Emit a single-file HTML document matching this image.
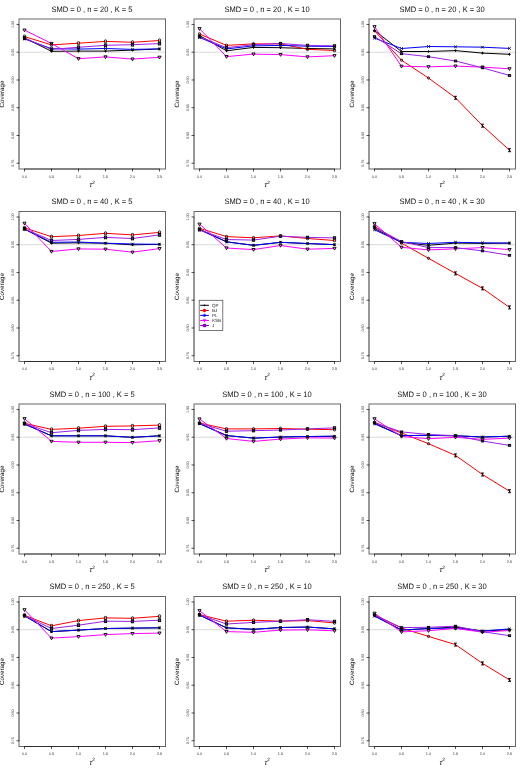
<!DOCTYPE html>
<html><head><meta charset="utf-8"><title>Coverage</title>
<style>
html,body{margin:0;padding:0;background:#fff}
svg{display:block;will-change:transform}
text{font-family:"Liberation Sans",sans-serif;fill:#000;text-rendering:geometricPrecision}
.t{font-size:7.9px;text-anchor:middle;fill:#111}
.k{font-size:3.9px;text-anchor:middle;fill:#444}
.a{font-size:6.2px;text-anchor:middle}
.l{font-size:4.5px;fill:#222}
.mk{fill:none;stroke:#000;stroke-width:0.9}
.ln{fill:none;stroke-width:1;stroke-linejoin:round}
</style></head><body>
<svg width="525" height="770" viewBox="0 0 525 770">
<rect width="525" height="770" fill="#fff"/>
<g>
<text class="t" transform="translate(92 11.9) scale(0.955 1)">SMD = 0 , n = 20 , K = 5</text>
<rect x="19" y="19" width="146.5" height="150" fill="none" stroke="#000" stroke-opacity="0.6" stroke-width="1"/>
<path d="M19.6 52.21H164.9" stroke="#d4d4d4" stroke-width="0.9"/>
<path d="M24.5 169H159.5" stroke="#000" stroke-opacity="0.55" stroke-width="1" fill="none"/>
<path d="M19 24.45V163.25" stroke="#000" stroke-opacity="0.3" stroke-width="1" fill="none"/>
<path d="M24.5 168.7v2.8M51.5 168.7v2.8M78.5 168.7v2.8M105.5 168.7v2.8M132.5 168.7v2.8M159.5 168.7v2.8M19.3 24.45h-2.8M19.3 52.21h-2.8M19.3 79.97h-2.8M19.3 107.73h-2.8M19.3 135.49h-2.8M19.3 163.25h-2.8" stroke="#000" stroke-opacity="0.75" stroke-width="0.9" fill="none"/>
<text class="k" x="24.5" y="177.9">0.0</text><text class="k" x="51.5" y="177.9">0.5</text><text class="k" x="78.5" y="177.9">1.0</text><text class="k" x="105.5" y="177.9">1.5</text><text class="k" x="132.5" y="177.9">2.0</text><text class="k" x="159.5" y="177.9">2.5</text>
<text class="k" style="font-size:3.7px" transform="translate(13.6 24.45) rotate(-90)">1.00</text><text class="k" style="font-size:3.7px" transform="translate(13.6 52.21) rotate(-90)">0.95</text><text class="k" style="font-size:3.7px" transform="translate(13.6 79.97) rotate(-90)">0.90</text><text class="k" style="font-size:3.7px" transform="translate(13.6 107.73) rotate(-90)">0.85</text><text class="k" style="font-size:3.7px" transform="translate(13.6 135.49) rotate(-90)">0.80</text><text class="k" style="font-size:3.7px" transform="translate(13.6 163.25) rotate(-90)">0.75</text>
<text class="a" transform="translate(4.4 94) rotate(-90)">Coverage</text>
<text class="a" x="92.2" y="187" style="font-size:7.2px;fill:#000"><tspan style="font-style:italic">&#964;</tspan><tspan dx="0.2" dy="-3.4" style="font-size:4.8px">2</tspan></text>
<polyline class="ln" stroke="#000000" points="24.5,37.8 51.5,51.3 78.5,51.1 105.5,51.1 132.5,50.1 159.5,48.95"/>
<polyline class="ln" stroke="#ff0000" points="24.5,36.6 51.5,44.9 78.5,43.2 105.5,41.4 132.5,42.3 159.5,40.5"/>
<polyline class="ln" stroke="#0000ff" points="24.5,38.9 51.5,48.7 78.5,49.1 105.5,48.5 132.5,49.4 159.5,48.9"/>
<polyline class="ln" stroke="#ff00ff" points="24.5,30.1 51.5,43.5 78.5,58.7 105.5,56.9 132.5,59.1 159.5,57.3"/>
<polyline class="ln" stroke="#9a20ea" points="24.5,38.2 51.5,49.3 78.5,47.3 105.5,45.3 132.5,44.7 159.5,43.6"/>
<g class="mk"><path d="M23.15 37.8H25.85M24.5 36.45V39.15"/><path d="M50.15 51.3H52.85M51.5 49.95V52.65"/><path d="M77.15 51.1H79.85M78.5 49.75V52.45"/><path d="M104.15 51.1H106.85M105.5 49.75V52.45"/><path d="M131.15 50.1H133.85M132.5 48.75V51.45"/><path d="M158.15 48.95H160.85M159.5 47.6V50.3"/><rect x="23.4" y="35.1" width="2.2" height="3" rx="0.8"/><rect x="50.4" y="43.4" width="2.2" height="3" rx="0.8"/><rect x="77.4" y="41.7" width="2.2" height="3" rx="0.8"/><rect x="104.4" y="39.9" width="2.2" height="3" rx="0.8"/><rect x="131.4" y="40.8" width="2.2" height="3" rx="0.8"/><rect x="158.4" y="39" width="2.2" height="3" rx="0.8"/><path d="M23.2 37.6L25.8 40.2M23.2 40.2L25.8 37.6"/><path d="M50.2 47.4L52.8 50M50.2 50L52.8 47.4"/><path d="M77.2 47.8L79.8 50.4M77.2 50.4L79.8 47.8"/><path d="M104.2 47.2L106.8 49.8M104.2 49.8L106.8 47.2"/><path d="M131.2 48.1L133.8 50.7M131.2 50.7L133.8 48.1"/><path d="M158.2 47.6L160.8 50.2M158.2 50.2L160.8 47.6"/><path d="M22.9 29H26.1L24.5 31.8Z"/><path d="M49.9 42.4H53.1L51.5 45.2Z"/><path d="M76.9 57.6H80.1L78.5 60.4Z"/><path d="M103.9 55.8H107.1L105.5 58.6Z"/><path d="M130.9 58H134.1L132.5 60.8Z"/><path d="M157.9 56.2H161.1L159.5 59Z"/><rect x="23.35" y="36.82" width="2.3" height="2.76" fill="#000" fill-opacity="0.55"/><rect x="50.35" y="47.92" width="2.3" height="2.76" fill="#000" fill-opacity="0.55"/><rect x="77.35" y="45.92" width="2.3" height="2.76" fill="#000" fill-opacity="0.55"/><rect x="104.35" y="43.92" width="2.3" height="2.76" fill="#000" fill-opacity="0.55"/><rect x="131.35" y="43.32" width="2.3" height="2.76" fill="#000" fill-opacity="0.55"/><rect x="158.35" y="42.22" width="2.3" height="2.76" fill="#000" fill-opacity="0.55"/></g>
</g>
<g>
<text class="t" transform="translate(267 11.9) scale(0.955 1)">SMD = 0 , n = 20 , K = 10</text>
<rect x="194" y="19" width="146.5" height="150" fill="none" stroke="#000" stroke-opacity="0.6" stroke-width="1"/>
<path d="M194.6 52.21H339.9" stroke="#d4d4d4" stroke-width="0.9"/>
<path d="M199.5 169H334.5" stroke="#000" stroke-opacity="0.55" stroke-width="1" fill="none"/>
<path d="M194 24.45V163.25" stroke="#000" stroke-opacity="0.3" stroke-width="1" fill="none"/>
<path d="M199.5 168.7v2.8M226.5 168.7v2.8M253.5 168.7v2.8M280.5 168.7v2.8M307.5 168.7v2.8M334.5 168.7v2.8M194.3 24.45h-2.8M194.3 52.21h-2.8M194.3 79.97h-2.8M194.3 107.73h-2.8M194.3 135.49h-2.8M194.3 163.25h-2.8" stroke="#000" stroke-opacity="0.75" stroke-width="0.9" fill="none"/>
<text class="k" x="199.5" y="177.9">0.0</text><text class="k" x="226.5" y="177.9">0.5</text><text class="k" x="253.5" y="177.9">1.0</text><text class="k" x="280.5" y="177.9">1.5</text><text class="k" x="307.5" y="177.9">2.0</text><text class="k" x="334.5" y="177.9">2.5</text>
<text class="k" style="font-size:3.7px" transform="translate(188.6 24.45) rotate(-90)">1.00</text><text class="k" style="font-size:3.7px" transform="translate(188.6 52.21) rotate(-90)">0.95</text><text class="k" style="font-size:3.7px" transform="translate(188.6 79.97) rotate(-90)">0.90</text><text class="k" style="font-size:3.7px" transform="translate(188.6 107.73) rotate(-90)">0.85</text><text class="k" style="font-size:3.7px" transform="translate(188.6 135.49) rotate(-90)">0.80</text><text class="k" style="font-size:3.7px" transform="translate(188.6 163.25) rotate(-90)">0.75</text>
<text class="a" transform="translate(179.4 94) rotate(-90)">Coverage</text>
<text class="a" x="267.2" y="187" style="font-size:7.2px;fill:#000"><tspan style="font-style:italic">&#964;</tspan><tspan dx="0.2" dy="-3.4" style="font-size:4.8px">2</tspan></text>
<polyline class="ln" stroke="#000000" points="199.5,35.5 226.5,50.8 253.5,47.4 280.5,47.7 307.5,48.5 334.5,48.9"/>
<polyline class="ln" stroke="#ff0000" points="199.5,34 226.5,45.4 253.5,43.9 280.5,43.9 307.5,49.3 334.5,50.5"/>
<polyline class="ln" stroke="#0000ff" points="199.5,37.4 226.5,48.9 253.5,45.9 280.5,45.4 307.5,46.2 334.5,46.5"/>
<polyline class="ln" stroke="#ff00ff" points="199.5,28.7 226.5,56.6 253.5,54.1 280.5,54.6 307.5,56.9 334.5,55.7"/>
<polyline class="ln" stroke="#9a20ea" points="199.5,36.8 226.5,47.7 253.5,44.7 280.5,43.5 307.5,45.4 334.5,45.9"/>
<g class="mk"><path d="M198.15 35.5H200.85M199.5 34.15V36.85"/><path d="M225.15 50.8H227.85M226.5 49.45V52.15"/><path d="M252.15 47.4H254.85M253.5 46.05V48.75"/><path d="M279.15 47.7H281.85M280.5 46.35V49.05"/><path d="M306.15 48.5H308.85M307.5 47.15V49.85"/><path d="M333.15 48.9H335.85M334.5 47.55V50.25"/><rect x="198.4" y="32.75" width="2.2" height="2.5" rx="0.8"/><rect x="225.4" y="44.15" width="2.2" height="2.5" rx="0.8"/><rect x="252.4" y="42.65" width="2.2" height="2.5" rx="0.8"/><rect x="279.4" y="42.65" width="2.2" height="2.5" rx="0.8"/><rect x="306.4" y="48.05" width="2.2" height="2.5" rx="0.8"/><rect x="333.4" y="49.25" width="2.2" height="2.5" rx="0.8"/><path d="M198.2 36.1L200.8 38.7M198.2 38.7L200.8 36.1"/><path d="M225.2 47.6L227.8 50.2M225.2 50.2L227.8 47.6"/><path d="M252.2 44.6L254.8 47.2M252.2 47.2L254.8 44.6"/><path d="M279.2 44.1L281.8 46.7M279.2 46.7L281.8 44.1"/><path d="M306.2 44.9L308.8 47.5M306.2 47.5L308.8 44.9"/><path d="M333.2 45.2L335.8 47.8M333.2 47.8L335.8 45.2"/><path d="M197.9 27.6H201.1L199.5 30.4Z"/><path d="M224.9 55.5H228.1L226.5 58.3Z"/><path d="M251.9 53H255.1L253.5 55.8Z"/><path d="M278.9 53.5H282.1L280.5 56.3Z"/><path d="M305.9 55.8H309.1L307.5 58.6Z"/><path d="M332.9 54.6H336.1L334.5 57.4Z"/><rect x="198.35" y="35.65" width="2.3" height="2.3" fill="#000" fill-opacity="0.55"/><rect x="225.35" y="46.55" width="2.3" height="2.3" fill="#000" fill-opacity="0.55"/><rect x="252.35" y="43.55" width="2.3" height="2.3" fill="#000" fill-opacity="0.55"/><rect x="279.35" y="42.35" width="2.3" height="2.3" fill="#000" fill-opacity="0.55"/><rect x="306.35" y="44.25" width="2.3" height="2.3" fill="#000" fill-opacity="0.55"/><rect x="333.35" y="44.75" width="2.3" height="2.3" fill="#000" fill-opacity="0.55"/></g>
</g>
<g>
<text class="t" transform="translate(442 11.9) scale(0.955 1)">SMD = 0 , n = 20 , K = 30</text>
<rect x="369" y="19" width="146.5" height="150" fill="none" stroke="#000" stroke-opacity="0.6" stroke-width="1"/>
<path d="M369.6 52.21H514.9" stroke="#d4d4d4" stroke-width="0.9"/>
<path d="M374.5 169H509.5" stroke="#000" stroke-opacity="0.55" stroke-width="1" fill="none"/>
<path d="M369 24.45V163.25" stroke="#000" stroke-opacity="0.3" stroke-width="1" fill="none"/>
<path d="M374.5 168.7v2.8M401.5 168.7v2.8M428.5 168.7v2.8M455.5 168.7v2.8M482.5 168.7v2.8M509.5 168.7v2.8M369.3 24.45h-2.8M369.3 52.21h-2.8M369.3 79.97h-2.8M369.3 107.73h-2.8M369.3 135.49h-2.8M369.3 163.25h-2.8" stroke="#000" stroke-opacity="0.75" stroke-width="0.9" fill="none"/>
<text class="k" x="374.5" y="177.9">0.0</text><text class="k" x="401.5" y="177.9">0.5</text><text class="k" x="428.5" y="177.9">1.0</text><text class="k" x="455.5" y="177.9">1.5</text><text class="k" x="482.5" y="177.9">2.0</text><text class="k" x="509.5" y="177.9">2.5</text>
<text class="k" style="font-size:3.7px" transform="translate(363.6 24.45) rotate(-90)">1.00</text><text class="k" style="font-size:3.7px" transform="translate(363.6 52.21) rotate(-90)">0.95</text><text class="k" style="font-size:3.7px" transform="translate(363.6 79.97) rotate(-90)">0.90</text><text class="k" style="font-size:3.7px" transform="translate(363.6 107.73) rotate(-90)">0.85</text><text class="k" style="font-size:3.7px" transform="translate(363.6 135.49) rotate(-90)">0.80</text><text class="k" style="font-size:3.7px" transform="translate(363.6 163.25) rotate(-90)">0.75</text>
<text class="a" transform="translate(354.4 94) rotate(-90)">Coverage</text>
<text class="a" x="442.2" y="187" style="font-size:7.2px;fill:#000"><tspan style="font-style:italic">&#964;</tspan><tspan dx="0.2" dy="-3.4" style="font-size:4.8px">2</tspan></text>
<polyline class="ln" stroke="#000000" points="374.5,30.5 401.5,51.5 428.5,51.5 455.5,50.6 482.5,53.1 509.5,54.3"/>
<polyline class="ln" stroke="#ff0000" points="374.5,30.8 401.5,60.2 428.5,78 455.5,97.8 482.5,125.7 509.5,150.2"/>
<polyline class="ln" stroke="#0000ff" points="374.5,38.1 401.5,48.5 428.5,46.5 455.5,46.8 482.5,47.2 509.5,48.4"/>
<polyline class="ln" stroke="#ff00ff" points="374.5,26.7 401.5,66.3 428.5,66.8 455.5,66.1 482.5,67.1 509.5,68.8"/>
<polyline class="ln" stroke="#9a20ea" points="374.5,36.6 401.5,53.7 428.5,56.7 455.5,61 482.5,67.8 509.5,75.5"/>
<g class="mk"><path d="M373.15 30.5H375.85M374.5 29.15V31.85"/><path d="M400.15 51.5H402.85M401.5 50.15V52.85"/><path d="M427.15 51.5H429.85M428.5 50.15V52.85"/><path d="M454.15 50.6H456.85M455.5 49.25V51.95"/><path d="M481.15 53.1H483.85M482.5 51.75V54.45"/><path d="M508.15 54.3H510.85M509.5 52.95V55.65"/><rect x="373.4" y="29.8" width="2.2" height="2" rx="0.8"/><rect x="400.4" y="59.2" width="2.2" height="2" rx="0.8"/><rect x="427.4" y="77" width="2.2" height="2" rx="0.8"/><path d="M454 96.3H457M454 99.3H457M455.5 96.3V99.3M454.5 96.8L456.5 98.8"/><path d="M481 124.2H484M481 127.2H484M482.5 124.2V127.2M481.5 124.7L483.5 126.7"/><path d="M508 148.7H511M508 151.7H511M509.5 148.7V151.7M508.5 149.2L510.5 151.2"/><path d="M373.2 36.8L375.8 39.4M373.2 39.4L375.8 36.8"/><path d="M400.2 47.2L402.8 49.8M400.2 49.8L402.8 47.2"/><path d="M427.2 45.2L429.8 47.8M427.2 47.8L429.8 45.2"/><path d="M454.2 45.5L456.8 48.1M454.2 48.1L456.8 45.5"/><path d="M481.2 45.9L483.8 48.5M481.2 48.5L483.8 45.9"/><path d="M508.2 47.1L510.8 49.7M508.2 49.7L510.8 47.1"/><path d="M372.9 25.6H376.1L374.5 28.4Z"/><path d="M399.9 65.2H403.1L401.5 68Z"/><path d="M426.9 65.7H430.1L428.5 68.5Z"/><path d="M453.9 65H457.1L455.5 67.8Z"/><path d="M480.9 66H484.1L482.5 68.8Z"/><path d="M507.9 67.7H511.1L509.5 70.5Z"/><rect x="373.35" y="35.68" width="2.3" height="1.84" fill="#000" fill-opacity="0.55"/><rect x="400.35" y="52.78" width="2.3" height="1.84" fill="#000" fill-opacity="0.55"/><rect x="427.35" y="55.78" width="2.3" height="1.84" fill="#000" fill-opacity="0.55"/><rect x="454.35" y="60.08" width="2.3" height="1.84" fill="#000" fill-opacity="0.55"/><rect x="481.35" y="66.88" width="2.3" height="1.84" fill="#000" fill-opacity="0.55"/><rect x="508.35" y="74.58" width="2.3" height="1.84" fill="#000" fill-opacity="0.55"/></g>
</g>
<g>
<text class="t" transform="translate(92 204.4) scale(0.955 1)">SMD = 0 , n = 40 , K = 5</text>
<rect x="19" y="211.5" width="146.5" height="150" fill="none" stroke="#000" stroke-opacity="0.6" stroke-width="1"/>
<path d="M19.6 244.71H164.9" stroke="#d4d4d4" stroke-width="0.9"/>
<path d="M24.5 361.5H159.5" stroke="#000" stroke-opacity="0.55" stroke-width="1" fill="none"/>
<path d="M19 216.95V355.75" stroke="#000" stroke-opacity="0.3" stroke-width="1" fill="none"/>
<path d="M24.5 361.2v2.8M51.5 361.2v2.8M78.5 361.2v2.8M105.5 361.2v2.8M132.5 361.2v2.8M159.5 361.2v2.8M19.3 216.95h-2.8M19.3 244.71h-2.8M19.3 272.47h-2.8M19.3 300.23h-2.8M19.3 327.99h-2.8M19.3 355.75h-2.8" stroke="#000" stroke-opacity="0.75" stroke-width="0.9" fill="none"/>
<text class="k" x="24.5" y="370.4">0.0</text><text class="k" x="51.5" y="370.4">0.5</text><text class="k" x="78.5" y="370.4">1.0</text><text class="k" x="105.5" y="370.4">1.5</text><text class="k" x="132.5" y="370.4">2.0</text><text class="k" x="159.5" y="370.4">2.5</text>
<text class="k" style="font-size:3.7px" transform="translate(13.6 216.95) rotate(-90)">1.00</text><text class="k" style="font-size:3.7px" transform="translate(13.6 244.71) rotate(-90)">0.95</text><text class="k" style="font-size:3.7px" transform="translate(13.6 272.47) rotate(-90)">0.90</text><text class="k" style="font-size:3.7px" transform="translate(13.6 300.23) rotate(-90)">0.85</text><text class="k" style="font-size:3.7px" transform="translate(13.6 327.99) rotate(-90)">0.80</text><text class="k" style="font-size:3.7px" transform="translate(13.6 355.75) rotate(-90)">0.75</text>
<text class="a" transform="translate(4.4 286.5) rotate(-90)">Coverage</text>
<text class="a" x="92.2" y="379.5" style="font-size:7.2px;fill:#000"><tspan style="font-style:italic">&#964;</tspan><tspan dx="0.2" dy="-3.4" style="font-size:4.8px">2</tspan></text>
<polyline class="ln" stroke="#000000" points="24.5,229.05 51.5,243.2 78.5,242.8 105.5,243.25 132.5,244.8 159.5,244.35"/>
<polyline class="ln" stroke="#ff0000" points="24.5,227.8 51.5,236.7 78.5,235.5 105.5,233.3 132.5,234.9 159.5,232.4"/>
<polyline class="ln" stroke="#0000ff" points="24.5,229 51.5,242.3 78.5,242 105.5,243.2 132.5,244 159.5,244.3"/>
<polyline class="ln" stroke="#ff00ff" points="24.5,223.3 51.5,251.5 78.5,248.9 105.5,249.2 132.5,252.2 159.5,248.6"/>
<polyline class="ln" stroke="#9a20ea" points="24.5,228.8 51.5,240.5 78.5,239.4 105.5,237.4 132.5,238.5 159.5,234.9"/>
<g class="mk"><path d="M23.15 229.05H25.85M24.5 227.7V230.4"/><path d="M50.15 243.2H52.85M51.5 241.85V244.55"/><path d="M77.15 242.8H79.85M78.5 241.45V244.15"/><path d="M104.15 243.25H106.85M105.5 241.9V244.6"/><path d="M131.15 244.8H133.85M132.5 243.45V246.15"/><path d="M158.15 244.35H160.85M159.5 243V245.7"/><rect x="23.4" y="226.3" width="2.2" height="3" rx="0.8"/><rect x="50.4" y="235.2" width="2.2" height="3" rx="0.8"/><rect x="77.4" y="234" width="2.2" height="3" rx="0.8"/><rect x="104.4" y="231.8" width="2.2" height="3" rx="0.8"/><rect x="131.4" y="233.4" width="2.2" height="3" rx="0.8"/><rect x="158.4" y="230.9" width="2.2" height="3" rx="0.8"/><path d="M23.2 227.7L25.8 230.3M23.2 230.3L25.8 227.7"/><path d="M50.2 241L52.8 243.6M50.2 243.6L52.8 241"/><path d="M77.2 240.7L79.8 243.3M77.2 243.3L79.8 240.7"/><path d="M104.2 241.9L106.8 244.5M104.2 244.5L106.8 241.9"/><path d="M131.2 242.7L133.8 245.3M131.2 245.3L133.8 242.7"/><path d="M158.2 243L160.8 245.6M158.2 245.6L160.8 243"/><path d="M22.9 222.2H26.1L24.5 225Z"/><path d="M49.9 250.4H53.1L51.5 253.2Z"/><path d="M76.9 247.8H80.1L78.5 250.6Z"/><path d="M103.9 248.1H107.1L105.5 250.9Z"/><path d="M130.9 251.1H134.1L132.5 253.9Z"/><path d="M157.9 247.5H161.1L159.5 250.3Z"/><rect x="23.35" y="227.42" width="2.3" height="2.76" fill="#000" fill-opacity="0.55"/><rect x="50.35" y="239.12" width="2.3" height="2.76" fill="#000" fill-opacity="0.55"/><rect x="77.35" y="238.02" width="2.3" height="2.76" fill="#000" fill-opacity="0.55"/><rect x="104.35" y="236.02" width="2.3" height="2.76" fill="#000" fill-opacity="0.55"/><rect x="131.35" y="237.12" width="2.3" height="2.76" fill="#000" fill-opacity="0.55"/><rect x="158.35" y="233.52" width="2.3" height="2.76" fill="#000" fill-opacity="0.55"/></g>
</g>
<g>
<text class="t" transform="translate(267 204.4) scale(0.955 1)">SMD = 0 , n = 40 , K = 10</text>
<rect x="194" y="211.5" width="146.5" height="150" fill="none" stroke="#000" stroke-opacity="0.6" stroke-width="1"/>
<path d="M194.6 244.71H339.9" stroke="#d4d4d4" stroke-width="0.9"/>
<path d="M199.5 361.5H334.5" stroke="#000" stroke-opacity="0.55" stroke-width="1" fill="none"/>
<path d="M194 216.95V355.75" stroke="#000" stroke-opacity="0.3" stroke-width="1" fill="none"/>
<path d="M199.5 361.2v2.8M226.5 361.2v2.8M253.5 361.2v2.8M280.5 361.2v2.8M307.5 361.2v2.8M334.5 361.2v2.8M194.3 216.95h-2.8M194.3 244.71h-2.8M194.3 272.47h-2.8M194.3 300.23h-2.8M194.3 327.99h-2.8M194.3 355.75h-2.8" stroke="#000" stroke-opacity="0.75" stroke-width="0.9" fill="none"/>
<text class="k" x="199.5" y="370.4">0.0</text><text class="k" x="226.5" y="370.4">0.5</text><text class="k" x="253.5" y="370.4">1.0</text><text class="k" x="280.5" y="370.4">1.5</text><text class="k" x="307.5" y="370.4">2.0</text><text class="k" x="334.5" y="370.4">2.5</text>
<text class="k" style="font-size:3.7px" transform="translate(188.6 216.95) rotate(-90)">1.00</text><text class="k" style="font-size:3.7px" transform="translate(188.6 244.71) rotate(-90)">0.95</text><text class="k" style="font-size:3.7px" transform="translate(188.6 272.47) rotate(-90)">0.90</text><text class="k" style="font-size:3.7px" transform="translate(188.6 300.23) rotate(-90)">0.85</text><text class="k" style="font-size:3.7px" transform="translate(188.6 327.99) rotate(-90)">0.80</text><text class="k" style="font-size:3.7px" transform="translate(188.6 355.75) rotate(-90)">0.75</text>
<text class="a" transform="translate(179.4 286.5) rotate(-90)">Coverage</text>
<text class="a" x="267.2" y="379.5" style="font-size:7.2px;fill:#000"><tspan style="font-style:italic">&#964;</tspan><tspan dx="0.2" dy="-3.4" style="font-size:4.8px">2</tspan></text>
<polyline class="ln" stroke="#000000" points="199.5,229.1 226.5,241.85 253.5,245.35 280.5,242.35 307.5,243.55 334.5,244.65"/>
<polyline class="ln" stroke="#ff0000" points="199.5,228.3 226.5,236.6 253.5,237.8 280.5,235.9 307.5,238.5 334.5,240.5"/>
<polyline class="ln" stroke="#0000ff" points="199.5,229.8 226.5,241.8 253.5,245.3 280.5,242.3 307.5,243.5 334.5,244.6"/>
<polyline class="ln" stroke="#ff00ff" points="199.5,224.2 226.5,248 253.5,249.6 280.5,245.5 307.5,249.2 334.5,248.4"/>
<polyline class="ln" stroke="#9a20ea" points="199.5,229.8 226.5,239.5 253.5,240.1 280.5,236.2 307.5,237.4 334.5,237.9"/>
<g class="mk"><path d="M198.15 229.1H200.85M199.5 227.75V230.45"/><path d="M225.15 241.85H227.85M226.5 240.5V243.2"/><path d="M252.15 245.35H254.85M253.5 244V246.7"/><path d="M279.15 242.35H281.85M280.5 241V243.7"/><path d="M306.15 243.55H308.85M307.5 242.2V244.9"/><path d="M333.15 244.65H335.85M334.5 243.3V246"/><rect x="198.4" y="227.05" width="2.2" height="2.5" rx="0.8"/><rect x="225.4" y="235.35" width="2.2" height="2.5" rx="0.8"/><rect x="252.4" y="236.55" width="2.2" height="2.5" rx="0.8"/><rect x="279.4" y="234.65" width="2.2" height="2.5" rx="0.8"/><rect x="306.4" y="237.25" width="2.2" height="2.5" rx="0.8"/><rect x="333.4" y="239.25" width="2.2" height="2.5" rx="0.8"/><path d="M198.2 228.5L200.8 231.1M198.2 231.1L200.8 228.5"/><path d="M225.2 240.5L227.8 243.1M225.2 243.1L227.8 240.5"/><path d="M252.2 244L254.8 246.6M252.2 246.6L254.8 244"/><path d="M279.2 241L281.8 243.6M279.2 243.6L281.8 241"/><path d="M306.2 242.2L308.8 244.8M306.2 244.8L308.8 242.2"/><path d="M333.2 243.3L335.8 245.9M333.2 245.9L335.8 243.3"/><path d="M197.9 223.1H201.1L199.5 225.9Z"/><path d="M224.9 246.9H228.1L226.5 249.7Z"/><path d="M251.9 248.5H255.1L253.5 251.3Z"/><path d="M278.9 244.4H282.1L280.5 247.2Z"/><path d="M305.9 248.1H309.1L307.5 250.9Z"/><path d="M332.9 247.3H336.1L334.5 250.1Z"/><rect x="198.35" y="228.65" width="2.3" height="2.3" fill="#000" fill-opacity="0.55"/><rect x="225.35" y="238.35" width="2.3" height="2.3" fill="#000" fill-opacity="0.55"/><rect x="252.35" y="238.95" width="2.3" height="2.3" fill="#000" fill-opacity="0.55"/><rect x="279.35" y="235.05" width="2.3" height="2.3" fill="#000" fill-opacity="0.55"/><rect x="306.35" y="236.25" width="2.3" height="2.3" fill="#000" fill-opacity="0.55"/><rect x="333.35" y="236.75" width="2.3" height="2.3" fill="#000" fill-opacity="0.55"/></g>
</g>
<g>
<text class="t" transform="translate(442 204.4) scale(0.955 1)">SMD = 0 , n = 40 , K = 30</text>
<rect x="369" y="211.5" width="146.5" height="150" fill="none" stroke="#000" stroke-opacity="0.6" stroke-width="1"/>
<path d="M369.6 244.71H514.9" stroke="#d4d4d4" stroke-width="0.9"/>
<path d="M374.5 361.5H509.5" stroke="#000" stroke-opacity="0.55" stroke-width="1" fill="none"/>
<path d="M369 216.95V355.75" stroke="#000" stroke-opacity="0.3" stroke-width="1" fill="none"/>
<path d="M374.5 361.2v2.8M401.5 361.2v2.8M428.5 361.2v2.8M455.5 361.2v2.8M482.5 361.2v2.8M509.5 361.2v2.8M369.3 216.95h-2.8M369.3 244.71h-2.8M369.3 272.47h-2.8M369.3 300.23h-2.8M369.3 327.99h-2.8M369.3 355.75h-2.8" stroke="#000" stroke-opacity="0.75" stroke-width="0.9" fill="none"/>
<text class="k" x="374.5" y="370.4">0.0</text><text class="k" x="401.5" y="370.4">0.5</text><text class="k" x="428.5" y="370.4">1.0</text><text class="k" x="455.5" y="370.4">1.5</text><text class="k" x="482.5" y="370.4">2.0</text><text class="k" x="509.5" y="370.4">2.5</text>
<text class="k" style="font-size:3.7px" transform="translate(363.6 216.95) rotate(-90)">1.00</text><text class="k" style="font-size:3.7px" transform="translate(363.6 244.71) rotate(-90)">0.95</text><text class="k" style="font-size:3.7px" transform="translate(363.6 272.47) rotate(-90)">0.90</text><text class="k" style="font-size:3.7px" transform="translate(363.6 300.23) rotate(-90)">0.85</text><text class="k" style="font-size:3.7px" transform="translate(363.6 327.99) rotate(-90)">0.80</text><text class="k" style="font-size:3.7px" transform="translate(363.6 355.75) rotate(-90)">0.75</text>
<text class="a" transform="translate(354.4 286.5) rotate(-90)">Coverage</text>
<text class="a" x="442.2" y="379.5" style="font-size:7.2px;fill:#000"><tspan style="font-style:italic">&#964;</tspan><tspan dx="0.2" dy="-3.4" style="font-size:4.8px">2</tspan></text>
<polyline class="ln" stroke="#000000" points="374.5,228.6 401.5,242.35 428.5,245.3 455.5,243.1 482.5,243.4 509.5,243.15"/>
<polyline class="ln" stroke="#ff0000" points="374.5,226.3 401.5,243.1 428.5,258.3 455.5,273.4 482.5,288.4 509.5,307.4"/>
<polyline class="ln" stroke="#0000ff" points="374.5,229.8 401.5,242.3 428.5,243.5 455.5,242.3 482.5,242.8 509.5,243.1"/>
<polyline class="ln" stroke="#ff00ff" points="374.5,223.7 401.5,247.3 428.5,249.9 455.5,248.8 482.5,247.6 509.5,249.6"/>
<polyline class="ln" stroke="#9a20ea" points="374.5,227.3 401.5,241.5 428.5,247.6 455.5,247.6 482.5,250.9 509.5,255.3"/>
<g class="mk"><path d="M373.15 228.6H375.85M374.5 227.25V229.95"/><path d="M400.15 242.35H402.85M401.5 241V243.7"/><path d="M427.15 245.3H429.85M428.5 243.95V246.65"/><path d="M454.15 243.1H456.85M455.5 241.75V244.45"/><path d="M481.15 243.4H483.85M482.5 242.05V244.75"/><path d="M508.15 243.15H510.85M509.5 241.8V244.5"/><rect x="373.4" y="225.3" width="2.2" height="2" rx="0.8"/><rect x="400.4" y="242.1" width="2.2" height="2" rx="0.8"/><rect x="427.4" y="257.3" width="2.2" height="2" rx="0.8"/><path d="M454 271.9H457M454 274.9H457M455.5 271.9V274.9M454.5 272.4L456.5 274.4"/><path d="M481 286.9H484M481 289.9H484M482.5 286.9V289.9M481.5 287.4L483.5 289.4"/><path d="M508 305.9H511M508 308.9H511M509.5 305.9V308.9M508.5 306.4L510.5 308.4"/><path d="M373.2 228.5L375.8 231.1M373.2 231.1L375.8 228.5"/><path d="M400.2 241L402.8 243.6M400.2 243.6L402.8 241"/><path d="M427.2 242.2L429.8 244.8M427.2 244.8L429.8 242.2"/><path d="M454.2 241L456.8 243.6M454.2 243.6L456.8 241"/><path d="M481.2 241.5L483.8 244.1M481.2 244.1L483.8 241.5"/><path d="M508.2 241.8L510.8 244.4M508.2 244.4L510.8 241.8"/><path d="M372.9 222.6H376.1L374.5 225.4Z"/><path d="M399.9 246.2H403.1L401.5 249Z"/><path d="M426.9 248.8H430.1L428.5 251.6Z"/><path d="M453.9 247.7H457.1L455.5 250.5Z"/><path d="M480.9 246.5H484.1L482.5 249.3Z"/><path d="M507.9 248.5H511.1L509.5 251.3Z"/><rect x="373.35" y="226.38" width="2.3" height="1.84" fill="#000" fill-opacity="0.55"/><rect x="400.35" y="240.58" width="2.3" height="1.84" fill="#000" fill-opacity="0.55"/><rect x="427.35" y="246.68" width="2.3" height="1.84" fill="#000" fill-opacity="0.55"/><rect x="454.35" y="246.68" width="2.3" height="1.84" fill="#000" fill-opacity="0.55"/><rect x="481.35" y="249.98" width="2.3" height="1.84" fill="#000" fill-opacity="0.55"/><rect x="508.35" y="254.38" width="2.3" height="1.84" fill="#000" fill-opacity="0.55"/></g>
</g>
<g>
<text class="t" transform="translate(92 396.9) scale(0.955 1)">SMD = 0 , n = 100 , K = 5</text>
<rect x="19" y="404" width="146.5" height="150" fill="none" stroke="#000" stroke-opacity="0.6" stroke-width="1"/>
<path d="M19.6 437.21H164.9" stroke="#d4d4d4" stroke-width="0.9"/>
<path d="M24.5 554H159.5" stroke="#000" stroke-opacity="0.55" stroke-width="1" fill="none"/>
<path d="M19 409.45V548.25" stroke="#000" stroke-opacity="0.3" stroke-width="1" fill="none"/>
<path d="M24.5 553.7v2.8M51.5 553.7v2.8M78.5 553.7v2.8M105.5 553.7v2.8M132.5 553.7v2.8M159.5 553.7v2.8M19.3 409.45h-2.8M19.3 437.21h-2.8M19.3 464.97h-2.8M19.3 492.73h-2.8M19.3 520.49h-2.8M19.3 548.25h-2.8" stroke="#000" stroke-opacity="0.75" stroke-width="0.9" fill="none"/>
<text class="k" x="24.5" y="562.9">0.0</text><text class="k" x="51.5" y="562.9">0.5</text><text class="k" x="78.5" y="562.9">1.0</text><text class="k" x="105.5" y="562.9">1.5</text><text class="k" x="132.5" y="562.9">2.0</text><text class="k" x="159.5" y="562.9">2.5</text>
<text class="k" style="font-size:3.7px" transform="translate(13.6 409.45) rotate(-90)">1.00</text><text class="k" style="font-size:3.7px" transform="translate(13.6 437.21) rotate(-90)">0.95</text><text class="k" style="font-size:3.7px" transform="translate(13.6 464.97) rotate(-90)">0.90</text><text class="k" style="font-size:3.7px" transform="translate(13.6 492.73) rotate(-90)">0.85</text><text class="k" style="font-size:3.7px" transform="translate(13.6 520.49) rotate(-90)">0.80</text><text class="k" style="font-size:3.7px" transform="translate(13.6 548.25) rotate(-90)">0.75</text>
<text class="a" transform="translate(4.4 479) rotate(-90)">Coverage</text>
<text class="a" x="92.2" y="572" style="font-size:7.2px;fill:#000"><tspan style="font-style:italic">&#964;</tspan><tspan dx="0.2" dy="-3.4" style="font-size:4.8px">2</tspan></text>
<polyline class="ln" stroke="#000000" points="24.5,424.05 51.5,435.85 78.5,435.85 105.5,435.85 132.5,437.35 159.5,435.85"/>
<polyline class="ln" stroke="#ff0000" points="24.5,423.3 51.5,429.4 78.5,428.2 105.5,426.3 132.5,425.9 159.5,425.1"/>
<polyline class="ln" stroke="#0000ff" points="24.5,424 51.5,435.8 78.5,435.8 105.5,435.8 132.5,437.3 159.5,435.8"/>
<polyline class="ln" stroke="#ff00ff" points="24.5,418.7 51.5,441.4 78.5,442.3 105.5,442.3 132.5,442.6 159.5,440.7"/>
<polyline class="ln" stroke="#9a20ea" points="24.5,423.6 51.5,432.7 78.5,430.4 105.5,429.4 132.5,429.7 159.5,427.9"/>
<g class="mk"><path d="M23.15 424.05H25.85M24.5 422.7V425.4"/><path d="M50.15 435.85H52.85M51.5 434.5V437.2"/><path d="M77.15 435.85H79.85M78.5 434.5V437.2"/><path d="M104.15 435.85H106.85M105.5 434.5V437.2"/><path d="M131.15 437.35H133.85M132.5 436V438.7"/><path d="M158.15 435.85H160.85M159.5 434.5V437.2"/><rect x="23.4" y="421.8" width="2.2" height="3" rx="0.8"/><rect x="50.4" y="427.9" width="2.2" height="3" rx="0.8"/><rect x="77.4" y="426.7" width="2.2" height="3" rx="0.8"/><rect x="104.4" y="424.8" width="2.2" height="3" rx="0.8"/><rect x="131.4" y="424.4" width="2.2" height="3" rx="0.8"/><rect x="158.4" y="423.6" width="2.2" height="3" rx="0.8"/><path d="M23.2 422.7L25.8 425.3M23.2 425.3L25.8 422.7"/><path d="M50.2 434.5L52.8 437.1M50.2 437.1L52.8 434.5"/><path d="M77.2 434.5L79.8 437.1M77.2 437.1L79.8 434.5"/><path d="M104.2 434.5L106.8 437.1M104.2 437.1L106.8 434.5"/><path d="M131.2 436L133.8 438.6M131.2 438.6L133.8 436"/><path d="M158.2 434.5L160.8 437.1M158.2 437.1L160.8 434.5"/><path d="M22.9 417.6H26.1L24.5 420.4Z"/><path d="M49.9 440.3H53.1L51.5 443.1Z"/><path d="M76.9 441.2H80.1L78.5 444Z"/><path d="M103.9 441.2H107.1L105.5 444Z"/><path d="M130.9 441.5H134.1L132.5 444.3Z"/><path d="M157.9 439.6H161.1L159.5 442.4Z"/><rect x="23.35" y="422.22" width="2.3" height="2.76" fill="#000" fill-opacity="0.55"/><rect x="50.35" y="431.32" width="2.3" height="2.76" fill="#000" fill-opacity="0.55"/><rect x="77.35" y="429.02" width="2.3" height="2.76" fill="#000" fill-opacity="0.55"/><rect x="104.35" y="428.02" width="2.3" height="2.76" fill="#000" fill-opacity="0.55"/><rect x="131.35" y="428.32" width="2.3" height="2.76" fill="#000" fill-opacity="0.55"/><rect x="158.35" y="426.52" width="2.3" height="2.76" fill="#000" fill-opacity="0.55"/></g>
</g>
<g>
<text class="t" transform="translate(267 396.9) scale(0.955 1)">SMD = 0 , n = 100 , K = 10</text>
<rect x="194" y="404" width="146.5" height="150" fill="none" stroke="#000" stroke-opacity="0.6" stroke-width="1"/>
<path d="M194.6 437.21H339.9" stroke="#d4d4d4" stroke-width="0.9"/>
<path d="M199.5 554H334.5" stroke="#000" stroke-opacity="0.55" stroke-width="1" fill="none"/>
<path d="M194 409.45V548.25" stroke="#000" stroke-opacity="0.3" stroke-width="1" fill="none"/>
<path d="M199.5 553.7v2.8M226.5 553.7v2.8M253.5 553.7v2.8M280.5 553.7v2.8M307.5 553.7v2.8M334.5 553.7v2.8M194.3 409.45h-2.8M194.3 437.21h-2.8M194.3 464.97h-2.8M194.3 492.73h-2.8M194.3 520.49h-2.8M194.3 548.25h-2.8" stroke="#000" stroke-opacity="0.75" stroke-width="0.9" fill="none"/>
<text class="k" x="199.5" y="562.9">0.0</text><text class="k" x="226.5" y="562.9">0.5</text><text class="k" x="253.5" y="562.9">1.0</text><text class="k" x="280.5" y="562.9">1.5</text><text class="k" x="307.5" y="562.9">2.0</text><text class="k" x="334.5" y="562.9">2.5</text>
<text class="k" style="font-size:3.7px" transform="translate(188.6 409.45) rotate(-90)">1.00</text><text class="k" style="font-size:3.7px" transform="translate(188.6 437.21) rotate(-90)">0.95</text><text class="k" style="font-size:3.7px" transform="translate(188.6 464.97) rotate(-90)">0.90</text><text class="k" style="font-size:3.7px" transform="translate(188.6 492.73) rotate(-90)">0.85</text><text class="k" style="font-size:3.7px" transform="translate(188.6 520.49) rotate(-90)">0.80</text><text class="k" style="font-size:3.7px" transform="translate(188.6 548.25) rotate(-90)">0.75</text>
<text class="a" transform="translate(179.4 479) rotate(-90)">Coverage</text>
<text class="a" x="267.2" y="572" style="font-size:7.2px;fill:#000"><tspan style="font-style:italic">&#964;</tspan><tspan dx="0.2" dy="-3.4" style="font-size:4.8px">2</tspan></text>
<polyline class="ln" stroke="#000000" points="199.5,423.65 226.5,435.55 253.5,438.15 280.5,437.05 307.5,436.55 334.5,436.25"/>
<polyline class="ln" stroke="#ff0000" points="199.5,423 226.5,428.9 253.5,428.9 280.5,428.5 307.5,429.2 334.5,429.7"/>
<polyline class="ln" stroke="#0000ff" points="199.5,423.6 226.5,435.5 253.5,438.1 280.5,437 307.5,436.5 334.5,436.2"/>
<polyline class="ln" stroke="#ff00ff" points="199.5,419 226.5,438.5 253.5,441.4 280.5,439.1 307.5,437.8 334.5,438.1"/>
<polyline class="ln" stroke="#9a20ea" points="199.5,423.3 226.5,431.2 253.5,430.7 280.5,430 307.5,428.9 334.5,427.9"/>
<g class="mk"><path d="M198.15 423.65H200.85M199.5 422.3V425"/><path d="M225.15 435.55H227.85M226.5 434.2V436.9"/><path d="M252.15 438.15H254.85M253.5 436.8V439.5"/><path d="M279.15 437.05H281.85M280.5 435.7V438.4"/><path d="M306.15 436.55H308.85M307.5 435.2V437.9"/><path d="M333.15 436.25H335.85M334.5 434.9V437.6"/><rect x="198.4" y="421.75" width="2.2" height="2.5" rx="0.8"/><rect x="225.4" y="427.65" width="2.2" height="2.5" rx="0.8"/><rect x="252.4" y="427.65" width="2.2" height="2.5" rx="0.8"/><rect x="279.4" y="427.25" width="2.2" height="2.5" rx="0.8"/><rect x="306.4" y="427.95" width="2.2" height="2.5" rx="0.8"/><rect x="333.4" y="428.45" width="2.2" height="2.5" rx="0.8"/><path d="M198.2 422.3L200.8 424.9M198.2 424.9L200.8 422.3"/><path d="M225.2 434.2L227.8 436.8M225.2 436.8L227.8 434.2"/><path d="M252.2 436.8L254.8 439.4M252.2 439.4L254.8 436.8"/><path d="M279.2 435.7L281.8 438.3M279.2 438.3L281.8 435.7"/><path d="M306.2 435.2L308.8 437.8M306.2 437.8L308.8 435.2"/><path d="M333.2 434.9L335.8 437.5M333.2 437.5L335.8 434.9"/><path d="M197.9 417.9H201.1L199.5 420.7Z"/><path d="M224.9 437.4H228.1L226.5 440.2Z"/><path d="M251.9 440.3H255.1L253.5 443.1Z"/><path d="M278.9 438H282.1L280.5 440.8Z"/><path d="M305.9 436.7H309.1L307.5 439.5Z"/><path d="M332.9 437H336.1L334.5 439.8Z"/><rect x="198.35" y="422.15" width="2.3" height="2.3" fill="#000" fill-opacity="0.55"/><rect x="225.35" y="430.05" width="2.3" height="2.3" fill="#000" fill-opacity="0.55"/><rect x="252.35" y="429.55" width="2.3" height="2.3" fill="#000" fill-opacity="0.55"/><rect x="279.35" y="428.85" width="2.3" height="2.3" fill="#000" fill-opacity="0.55"/><rect x="306.35" y="427.75" width="2.3" height="2.3" fill="#000" fill-opacity="0.55"/><rect x="333.35" y="426.75" width="2.3" height="2.3" fill="#000" fill-opacity="0.55"/></g>
</g>
<g>
<text class="t" transform="translate(442 396.9) scale(0.955 1)">SMD = 0 , n = 100 , K = 30</text>
<rect x="369" y="404" width="146.5" height="150" fill="none" stroke="#000" stroke-opacity="0.6" stroke-width="1"/>
<path d="M369.6 437.21H514.9" stroke="#d4d4d4" stroke-width="0.9"/>
<path d="M374.5 554H509.5" stroke="#000" stroke-opacity="0.55" stroke-width="1" fill="none"/>
<path d="M369 409.45V548.25" stroke="#000" stroke-opacity="0.3" stroke-width="1" fill="none"/>
<path d="M374.5 553.7v2.8M401.5 553.7v2.8M428.5 553.7v2.8M455.5 553.7v2.8M482.5 553.7v2.8M509.5 553.7v2.8M369.3 409.45h-2.8M369.3 437.21h-2.8M369.3 464.97h-2.8M369.3 492.73h-2.8M369.3 520.49h-2.8M369.3 548.25h-2.8" stroke="#000" stroke-opacity="0.75" stroke-width="0.9" fill="none"/>
<text class="k" x="374.5" y="562.9">0.0</text><text class="k" x="401.5" y="562.9">0.5</text><text class="k" x="428.5" y="562.9">1.0</text><text class="k" x="455.5" y="562.9">1.5</text><text class="k" x="482.5" y="562.9">2.0</text><text class="k" x="509.5" y="562.9">2.5</text>
<text class="k" style="font-size:3.7px" transform="translate(363.6 409.45) rotate(-90)">1.00</text><text class="k" style="font-size:3.7px" transform="translate(363.6 437.21) rotate(-90)">0.95</text><text class="k" style="font-size:3.7px" transform="translate(363.6 464.97) rotate(-90)">0.90</text><text class="k" style="font-size:3.7px" transform="translate(363.6 492.73) rotate(-90)">0.85</text><text class="k" style="font-size:3.7px" transform="translate(363.6 520.49) rotate(-90)">0.80</text><text class="k" style="font-size:3.7px" transform="translate(363.6 548.25) rotate(-90)">0.75</text>
<text class="a" transform="translate(354.4 479) rotate(-90)">Coverage</text>
<text class="a" x="442.2" y="572" style="font-size:7.2px;fill:#000"><tspan style="font-style:italic">&#964;</tspan><tspan dx="0.2" dy="-3.4" style="font-size:4.8px">2</tspan></text>
<polyline class="ln" stroke="#000000" points="374.5,423.1 401.5,435.65 428.5,435.35 455.5,435.75 482.5,437.05 509.5,436.25"/>
<polyline class="ln" stroke="#ff0000" points="374.5,422.3 401.5,433 428.5,443.7 455.5,455.4 482.5,474.5 509.5,491.2"/>
<polyline class="ln" stroke="#0000ff" points="374.5,423.9 401.5,435.6 428.5,435.3 455.5,435.7 482.5,437 509.5,436.2"/>
<polyline class="ln" stroke="#ff00ff" points="374.5,418.8 401.5,436.5 428.5,438.7 455.5,437.3 482.5,439.4 509.5,438.1"/>
<polyline class="ln" stroke="#9a20ea" points="374.5,422.8 401.5,431.9 428.5,434.5 455.5,435.7 482.5,441 509.5,445.4"/>
<g class="mk"><path d="M373.15 423.1H375.85M374.5 421.75V424.45"/><path d="M400.15 435.65H402.85M401.5 434.3V437"/><path d="M427.15 435.35H429.85M428.5 434V436.7"/><path d="M454.15 435.75H456.85M455.5 434.4V437.1"/><path d="M481.15 437.05H483.85M482.5 435.7V438.4"/><path d="M508.15 436.25H510.85M509.5 434.9V437.6"/><rect x="373.4" y="421.3" width="2.2" height="2" rx="0.8"/><rect x="400.4" y="432" width="2.2" height="2" rx="0.8"/><rect x="427.4" y="442.7" width="2.2" height="2" rx="0.8"/><path d="M454 453.9H457M454 456.9H457M455.5 453.9V456.9M454.5 454.4L456.5 456.4"/><path d="M481 473H484M481 476H484M482.5 473V476M481.5 473.5L483.5 475.5"/><path d="M508 489.7H511M508 492.7H511M509.5 489.7V492.7M508.5 490.2L510.5 492.2"/><path d="M373.2 422.6L375.8 425.2M373.2 425.2L375.8 422.6"/><path d="M400.2 434.3L402.8 436.9M400.2 436.9L402.8 434.3"/><path d="M427.2 434L429.8 436.6M427.2 436.6L429.8 434"/><path d="M454.2 434.4L456.8 437M454.2 437L456.8 434.4"/><path d="M481.2 435.7L483.8 438.3M481.2 438.3L483.8 435.7"/><path d="M508.2 434.9L510.8 437.5M508.2 437.5L510.8 434.9"/><path d="M372.9 417.7H376.1L374.5 420.5Z"/><path d="M399.9 435.4H403.1L401.5 438.2Z"/><path d="M426.9 437.6H430.1L428.5 440.4Z"/><path d="M453.9 436.2H457.1L455.5 439Z"/><path d="M480.9 438.3H484.1L482.5 441.1Z"/><path d="M507.9 437H511.1L509.5 439.8Z"/><rect x="373.35" y="421.88" width="2.3" height="1.84" fill="#000" fill-opacity="0.55"/><rect x="400.35" y="430.98" width="2.3" height="1.84" fill="#000" fill-opacity="0.55"/><rect x="427.35" y="433.58" width="2.3" height="1.84" fill="#000" fill-opacity="0.55"/><rect x="454.35" y="434.78" width="2.3" height="1.84" fill="#000" fill-opacity="0.55"/><rect x="481.35" y="440.08" width="2.3" height="1.84" fill="#000" fill-opacity="0.55"/><rect x="508.35" y="444.48" width="2.3" height="1.84" fill="#000" fill-opacity="0.55"/></g>
</g>
<g>
<text class="t" transform="translate(92 589.4) scale(0.955 1)">SMD = 0 , n = 250 , K = 5</text>
<rect x="19" y="596.5" width="146.5" height="150" fill="none" stroke="#000" stroke-opacity="0.6" stroke-width="1"/>
<path d="M19.6 629.71H164.9" stroke="#d4d4d4" stroke-width="0.9"/>
<path d="M24.5 746.5H159.5" stroke="#000" stroke-opacity="0.55" stroke-width="1" fill="none"/>
<path d="M19 601.95V740.75" stroke="#000" stroke-opacity="0.3" stroke-width="1" fill="none"/>
<path d="M24.5 746.2v2.8M51.5 746.2v2.8M78.5 746.2v2.8M105.5 746.2v2.8M132.5 746.2v2.8M159.5 746.2v2.8M19.3 601.95h-2.8M19.3 629.71h-2.8M19.3 657.47h-2.8M19.3 685.23h-2.8M19.3 712.99h-2.8M19.3 740.75h-2.8" stroke="#000" stroke-opacity="0.75" stroke-width="0.9" fill="none"/>
<text class="k" x="24.5" y="755.4">0.0</text><text class="k" x="51.5" y="755.4">0.5</text><text class="k" x="78.5" y="755.4">1.0</text><text class="k" x="105.5" y="755.4">1.5</text><text class="k" x="132.5" y="755.4">2.0</text><text class="k" x="159.5" y="755.4">2.5</text>
<text class="k" style="font-size:3.7px" transform="translate(13.6 601.95) rotate(-90)">1.00</text><text class="k" style="font-size:3.7px" transform="translate(13.6 629.71) rotate(-90)">0.95</text><text class="k" style="font-size:3.7px" transform="translate(13.6 657.47) rotate(-90)">0.90</text><text class="k" style="font-size:3.7px" transform="translate(13.6 685.23) rotate(-90)">0.85</text><text class="k" style="font-size:3.7px" transform="translate(13.6 712.99) rotate(-90)">0.80</text><text class="k" style="font-size:3.7px" transform="translate(13.6 740.75) rotate(-90)">0.75</text>
<text class="a" transform="translate(4.4 671.5) rotate(-90)">Coverage</text>
<text class="a" x="92.2" y="764.5" style="font-size:7.2px;fill:#000"><tspan style="font-style:italic">&#964;</tspan><tspan dx="0.2" dy="-3.4" style="font-size:4.8px">2</tspan></text>
<polyline class="ln" stroke="#000000" points="24.5,615.85 51.5,631.65 78.5,630.15 105.5,628.55 132.5,628.15 159.5,627.85"/>
<polyline class="ln" stroke="#ff0000" points="24.5,615.3 51.5,625.8 78.5,620.6 105.5,617.9 132.5,618.3 159.5,616.3"/>
<polyline class="ln" stroke="#0000ff" points="24.5,615.8 51.5,631.6 78.5,630.1 105.5,628.5 132.5,628.1 159.5,627.8"/>
<polyline class="ln" stroke="#ff00ff" points="24.5,609.8 51.5,638.1 78.5,636.6 105.5,634.6 132.5,633.6 159.5,633.1"/>
<polyline class="ln" stroke="#9a20ea" points="24.5,615.6 51.5,628.5 78.5,625.2 105.5,621.2 132.5,621.4 159.5,620.2"/>
<g class="mk"><path d="M23.15 615.85H25.85M24.5 614.5V617.2"/><path d="M50.15 631.65H52.85M51.5 630.3V633"/><path d="M77.15 630.15H79.85M78.5 628.8V631.5"/><path d="M104.15 628.55H106.85M105.5 627.2V629.9"/><path d="M131.15 628.15H133.85M132.5 626.8V629.5"/><path d="M158.15 627.85H160.85M159.5 626.5V629.2"/><rect x="23.4" y="613.8" width="2.2" height="3" rx="0.8"/><rect x="50.4" y="624.3" width="2.2" height="3" rx="0.8"/><rect x="77.4" y="619.1" width="2.2" height="3" rx="0.8"/><rect x="104.4" y="616.4" width="2.2" height="3" rx="0.8"/><rect x="131.4" y="616.8" width="2.2" height="3" rx="0.8"/><rect x="158.4" y="614.8" width="2.2" height="3" rx="0.8"/><path d="M23.2 614.5L25.8 617.1M23.2 617.1L25.8 614.5"/><path d="M50.2 630.3L52.8 632.9M50.2 632.9L52.8 630.3"/><path d="M77.2 628.8L79.8 631.4M77.2 631.4L79.8 628.8"/><path d="M104.2 627.2L106.8 629.8M104.2 629.8L106.8 627.2"/><path d="M131.2 626.8L133.8 629.4M131.2 629.4L133.8 626.8"/><path d="M158.2 626.5L160.8 629.1M158.2 629.1L160.8 626.5"/><path d="M22.9 608.7H26.1L24.5 611.5Z"/><path d="M49.9 637H53.1L51.5 639.8Z"/><path d="M76.9 635.5H80.1L78.5 638.3Z"/><path d="M103.9 633.5H107.1L105.5 636.3Z"/><path d="M130.9 632.5H134.1L132.5 635.3Z"/><path d="M157.9 632H161.1L159.5 634.8Z"/><rect x="23.35" y="614.22" width="2.3" height="2.76" fill="#000" fill-opacity="0.55"/><rect x="50.35" y="627.12" width="2.3" height="2.76" fill="#000" fill-opacity="0.55"/><rect x="77.35" y="623.82" width="2.3" height="2.76" fill="#000" fill-opacity="0.55"/><rect x="104.35" y="619.82" width="2.3" height="2.76" fill="#000" fill-opacity="0.55"/><rect x="131.35" y="620.02" width="2.3" height="2.76" fill="#000" fill-opacity="0.55"/><rect x="158.35" y="618.82" width="2.3" height="2.76" fill="#000" fill-opacity="0.55"/></g>
</g>
<g>
<text class="t" transform="translate(267 589.4) scale(0.955 1)">SMD = 0 , n = 250 , K = 10</text>
<rect x="194" y="596.5" width="146.5" height="150" fill="none" stroke="#000" stroke-opacity="0.6" stroke-width="1"/>
<path d="M194.6 629.71H339.9" stroke="#d4d4d4" stroke-width="0.9"/>
<path d="M199.5 746.5H334.5" stroke="#000" stroke-opacity="0.55" stroke-width="1" fill="none"/>
<path d="M194 601.95V740.75" stroke="#000" stroke-opacity="0.3" stroke-width="1" fill="none"/>
<path d="M199.5 746.2v2.8M226.5 746.2v2.8M253.5 746.2v2.8M280.5 746.2v2.8M307.5 746.2v2.8M334.5 746.2v2.8M194.3 601.95h-2.8M194.3 629.71h-2.8M194.3 657.47h-2.8M194.3 685.23h-2.8M194.3 712.99h-2.8M194.3 740.75h-2.8" stroke="#000" stroke-opacity="0.75" stroke-width="0.9" fill="none"/>
<text class="k" x="199.5" y="755.4">0.0</text><text class="k" x="226.5" y="755.4">0.5</text><text class="k" x="253.5" y="755.4">1.0</text><text class="k" x="280.5" y="755.4">1.5</text><text class="k" x="307.5" y="755.4">2.0</text><text class="k" x="334.5" y="755.4">2.5</text>
<text class="k" style="font-size:3.7px" transform="translate(188.6 601.95) rotate(-90)">1.00</text><text class="k" style="font-size:3.7px" transform="translate(188.6 629.71) rotate(-90)">0.95</text><text class="k" style="font-size:3.7px" transform="translate(188.6 657.47) rotate(-90)">0.90</text><text class="k" style="font-size:3.7px" transform="translate(188.6 685.23) rotate(-90)">0.85</text><text class="k" style="font-size:3.7px" transform="translate(188.6 712.99) rotate(-90)">0.80</text><text class="k" style="font-size:3.7px" transform="translate(188.6 740.75) rotate(-90)">0.75</text>
<text class="a" transform="translate(179.4 671.5) rotate(-90)">Coverage</text>
<text class="a" x="267.2" y="764.5" style="font-size:7.2px;fill:#000"><tspan style="font-style:italic">&#964;</tspan><tspan dx="0.2" dy="-3.4" style="font-size:4.8px">2</tspan></text>
<polyline class="ln" stroke="#000000" points="199.5,615.15 226.5,627.85 253.5,629.35 280.5,627.55 307.5,627.05 334.5,628.85"/>
<polyline class="ln" stroke="#ff0000" points="199.5,614.6 226.5,621.2 253.5,620.2 280.5,621.2 307.5,620.6 334.5,622.9"/>
<polyline class="ln" stroke="#0000ff" points="199.5,615.1 226.5,627.8 253.5,629.3 280.5,627.5 307.5,627 334.5,628.8"/>
<polyline class="ln" stroke="#ff00ff" points="199.5,610.7 226.5,631.6 253.5,632.3 280.5,630.1 307.5,629.8 334.5,630.8"/>
<polyline class="ln" stroke="#9a20ea" points="199.5,614.8 226.5,624 253.5,622.4 280.5,621.2 307.5,619.7 334.5,621.4"/>
<g class="mk"><path d="M198.15 615.15H200.85M199.5 613.8V616.5"/><path d="M225.15 627.85H227.85M226.5 626.5V629.2"/><path d="M252.15 629.35H254.85M253.5 628V630.7"/><path d="M279.15 627.55H281.85M280.5 626.2V628.9"/><path d="M306.15 627.05H308.85M307.5 625.7V628.4"/><path d="M333.15 628.85H335.85M334.5 627.5V630.2"/><rect x="198.4" y="613.35" width="2.2" height="2.5" rx="0.8"/><rect x="225.4" y="619.95" width="2.2" height="2.5" rx="0.8"/><rect x="252.4" y="618.95" width="2.2" height="2.5" rx="0.8"/><rect x="279.4" y="619.95" width="2.2" height="2.5" rx="0.8"/><rect x="306.4" y="619.35" width="2.2" height="2.5" rx="0.8"/><rect x="333.4" y="621.65" width="2.2" height="2.5" rx="0.8"/><path d="M198.2 613.8L200.8 616.4M198.2 616.4L200.8 613.8"/><path d="M225.2 626.5L227.8 629.1M225.2 629.1L227.8 626.5"/><path d="M252.2 628L254.8 630.6M252.2 630.6L254.8 628"/><path d="M279.2 626.2L281.8 628.8M279.2 628.8L281.8 626.2"/><path d="M306.2 625.7L308.8 628.3M306.2 628.3L308.8 625.7"/><path d="M333.2 627.5L335.8 630.1M333.2 630.1L335.8 627.5"/><path d="M197.9 609.6H201.1L199.5 612.4Z"/><path d="M224.9 630.5H228.1L226.5 633.3Z"/><path d="M251.9 631.2H255.1L253.5 634Z"/><path d="M278.9 629H282.1L280.5 631.8Z"/><path d="M305.9 628.7H309.1L307.5 631.5Z"/><path d="M332.9 629.7H336.1L334.5 632.5Z"/><rect x="198.35" y="613.65" width="2.3" height="2.3" fill="#000" fill-opacity="0.55"/><rect x="225.35" y="622.85" width="2.3" height="2.3" fill="#000" fill-opacity="0.55"/><rect x="252.35" y="621.25" width="2.3" height="2.3" fill="#000" fill-opacity="0.55"/><rect x="279.35" y="620.05" width="2.3" height="2.3" fill="#000" fill-opacity="0.55"/><rect x="306.35" y="618.55" width="2.3" height="2.3" fill="#000" fill-opacity="0.55"/><rect x="333.35" y="620.25" width="2.3" height="2.3" fill="#000" fill-opacity="0.55"/></g>
</g>
<g>
<text class="t" transform="translate(442 589.4) scale(0.955 1)">SMD = 0 , n = 250 , K = 30</text>
<rect x="369" y="596.5" width="146.5" height="150" fill="none" stroke="#000" stroke-opacity="0.6" stroke-width="1"/>
<path d="M369.6 629.71H514.9" stroke="#d4d4d4" stroke-width="0.9"/>
<path d="M374.5 746.5H509.5" stroke="#000" stroke-opacity="0.55" stroke-width="1" fill="none"/>
<path d="M369 601.95V740.75" stroke="#000" stroke-opacity="0.3" stroke-width="1" fill="none"/>
<path d="M374.5 746.2v2.8M401.5 746.2v2.8M428.5 746.2v2.8M455.5 746.2v2.8M482.5 746.2v2.8M509.5 746.2v2.8M369.3 601.95h-2.8M369.3 629.71h-2.8M369.3 657.47h-2.8M369.3 685.23h-2.8M369.3 712.99h-2.8M369.3 740.75h-2.8" stroke="#000" stroke-opacity="0.75" stroke-width="0.9" fill="none"/>
<text class="k" x="374.5" y="755.4">0.0</text><text class="k" x="401.5" y="755.4">0.5</text><text class="k" x="428.5" y="755.4">1.0</text><text class="k" x="455.5" y="755.4">1.5</text><text class="k" x="482.5" y="755.4">2.0</text><text class="k" x="509.5" y="755.4">2.5</text>
<text class="k" style="font-size:3.7px" transform="translate(363.6 601.95) rotate(-90)">1.00</text><text class="k" style="font-size:3.7px" transform="translate(363.6 629.71) rotate(-90)">0.95</text><text class="k" style="font-size:3.7px" transform="translate(363.6 657.47) rotate(-90)">0.90</text><text class="k" style="font-size:3.7px" transform="translate(363.6 685.23) rotate(-90)">0.85</text><text class="k" style="font-size:3.7px" transform="translate(363.6 712.99) rotate(-90)">0.80</text><text class="k" style="font-size:3.7px" transform="translate(363.6 740.75) rotate(-90)">0.75</text>
<text class="a" transform="translate(354.4 671.5) rotate(-90)">Coverage</text>
<text class="a" x="442.2" y="764.5" style="font-size:7.2px;fill:#000"><tspan style="font-style:italic">&#964;</tspan><tspan dx="0.2" dy="-3.4" style="font-size:4.8px">2</tspan></text>
<polyline class="ln" stroke="#000000" points="374.5,615.6 401.5,630.05 428.5,628.55 455.5,627 482.5,631.05 509.5,629.7"/>
<polyline class="ln" stroke="#ff0000" points="374.5,614.8 401.5,628.1 428.5,636.4 455.5,644.6 482.5,663.4 509.5,679.9"/>
<polyline class="ln" stroke="#0000ff" points="374.5,616.2 401.5,630 428.5,628.5 455.5,628.1 482.5,631 509.5,628.9"/>
<polyline class="ln" stroke="#ff00ff" points="374.5,613.3 401.5,631.9 428.5,630.7 455.5,628.4 482.5,632.2 509.5,630.5"/>
<polyline class="ln" stroke="#9a20ea" points="374.5,615.1 401.5,627.6 428.5,627.3 455.5,626.2 482.5,631.7 509.5,635.7"/>
<g class="mk"><path d="M373.15 615.6H375.85M374.5 614.25V616.95"/><path d="M400.15 630.05H402.85M401.5 628.7V631.4"/><path d="M427.15 628.55H429.85M428.5 627.2V629.9"/><path d="M454.15 627H456.85M455.5 625.65V628.35"/><path d="M481.15 631.05H483.85M482.5 629.7V632.4"/><path d="M508.15 629.7H510.85M509.5 628.35V631.05"/><rect x="373.4" y="613.8" width="2.2" height="2" rx="0.8"/><rect x="400.4" y="627.1" width="2.2" height="2" rx="0.8"/><rect x="427.4" y="635.4" width="2.2" height="2" rx="0.8"/><path d="M454 643.1H457M454 646.1H457M455.5 643.1V646.1M454.5 643.6L456.5 645.6"/><path d="M481 661.9H484M481 664.9H484M482.5 661.9V664.9M481.5 662.4L483.5 664.4"/><path d="M508 678.4H511M508 681.4H511M509.5 678.4V681.4M508.5 678.9L510.5 680.9"/><path d="M373.2 614.9L375.8 617.5M373.2 617.5L375.8 614.9"/><path d="M400.2 628.7L402.8 631.3M400.2 631.3L402.8 628.7"/><path d="M427.2 627.2L429.8 629.8M427.2 629.8L429.8 627.2"/><path d="M454.2 626.8L456.8 629.4M454.2 629.4L456.8 626.8"/><path d="M481.2 629.7L483.8 632.3M481.2 632.3L483.8 629.7"/><path d="M508.2 627.6L510.8 630.2M508.2 630.2L510.8 627.6"/><path d="M372.9 612.2H376.1L374.5 615Z"/><path d="M399.9 630.8H403.1L401.5 633.6Z"/><path d="M426.9 629.6H430.1L428.5 632.4Z"/><path d="M453.9 627.3H457.1L455.5 630.1Z"/><path d="M480.9 631.1H484.1L482.5 633.9Z"/><path d="M507.9 629.4H511.1L509.5 632.2Z"/><rect x="373.35" y="614.18" width="2.3" height="1.84" fill="#000" fill-opacity="0.55"/><rect x="400.35" y="626.68" width="2.3" height="1.84" fill="#000" fill-opacity="0.55"/><rect x="427.35" y="626.38" width="2.3" height="1.84" fill="#000" fill-opacity="0.55"/><rect x="454.35" y="625.28" width="2.3" height="1.84" fill="#000" fill-opacity="0.55"/><rect x="481.35" y="630.78" width="2.3" height="1.84" fill="#000" fill-opacity="0.55"/><rect x="508.35" y="634.78" width="2.3" height="1.84" fill="#000" fill-opacity="0.55"/></g>
</g>
<g>
<rect x="199.2" y="300.3" width="23.6" height="30.1" fill="#fff" stroke="#555" stroke-width="0.8"/>
<path d="M200.2 305.3H208.9" stroke="#000000" stroke-width="1"/><path d="M203.6 305.3H205.4M204.5 304.40000000000003V306.2" stroke="#000" stroke-width="0.6"/><text class="l" x="212.1" y="306.8">QP</text>
<path d="M200.2 310.5H208.9" stroke="#ff0000" stroke-width="1"/><circle cx="204.5" cy="310.5" r="1.7" fill="#ff0000"/><text class="l" x="212.1" y="312">BJ</text>
<path d="M200.2 315.4H208.9" stroke="#0000ff" stroke-width="1"/><path d="M203.2 314.1L205.8 316.7M203.2 316.7L205.8 314.1M202.8 315.4H206.2M204.5 313.7V317.1" stroke="#0000ff" stroke-width="0.6"/><text class="l" x="212.1" y="316.9">PL</text>
<path d="M200.2 320.5H208.9" stroke="#ff00ff" stroke-width="1"/><path d="M202.5 319.3H206.5L204.5 322.6Z" fill="#ff00ff"/><text class="l" x="212.1" y="322">KSB</text>
<path d="M200.2 325.5H208.9" stroke="#8800cc" stroke-width="1"/><rect x="202.85" y="323.85" width="3.3" height="3.3" fill="#8800cc"/><text class="l" x="212.1" y="327">J</text>
</g>
</svg>
</body></html>
